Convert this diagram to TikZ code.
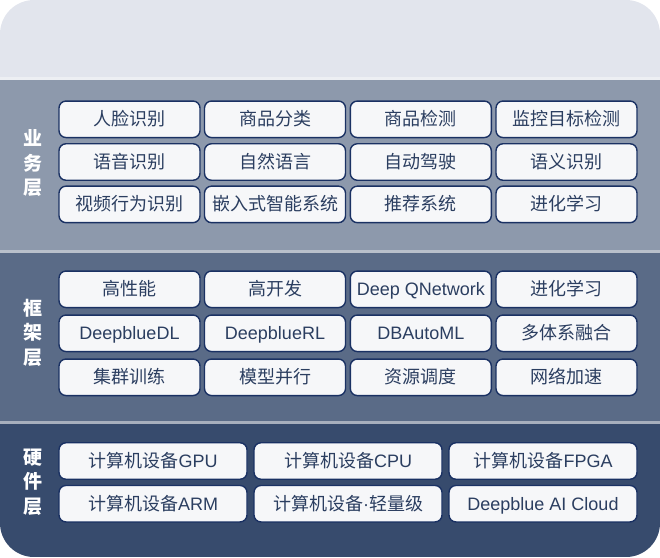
\documentclass[tikz,border=0pt]{standalone}
\usepackage{fontspec}
\setmainfont{Liberation Sans}
\newfontfamily\cjk{Noto Sans CJK SC}
\newfontfamily\lat{Liberation Sans}
\definecolor{topband}{HTML}{E2E5ED}
\definecolor{sepA}{HTML}{EDEFF3}
\definecolor{bizband}{HTML}{8D99AC}
\definecolor{sepB}{HTML}{B9C0CB}
\definecolor{frameband}{HTML}{5A6B87}
\definecolor{sepC}{HTML}{A7AFBD}
\definecolor{hwband}{HTML}{374B6D}
\definecolor{boxline}{HTML}{1A3163}
\definecolor{boxfill}{HTML}{F6F7F9}
\definecolor{boxtext}{HTML}{2B3E60}

\begin{document}
\begin{tikzpicture}[x=1pt,y=-1pt,
  box/.style={draw=boxline,line width=1.4pt,fill=boxfill,rounded corners=7pt,
    minimum width=141pt,minimum height=36.5pt,inner sep=0pt,
    text height=15pt,text depth=2pt,text=boxtext,font=\cjk\fontsize{18}{18}\selectfont},
  widebox/.style={box,minimum width=188pt},
  layer/.style={text=white,align=center,inner sep=0pt,
    font=\cjk\bfseries\fontsize{19}{24.5}\selectfont}]
\useasboundingbox (0,0) rectangle (660,557);

% bands
\begin{scope}
\clip[rounded corners=34pt] (0,0) rectangle (660,557);
\fill[topband] (0,0) rectangle (660,77);
\fill[sepA] (0,77) rectangle (660,80);
\fill[bizband] (0,80) rectangle (660,250);
\fill[sepB] (0,250) rectangle (660,253.3);
\fill[frameband] (0,253.3) rectangle (660,421);
\fill[sepC] (0,421) rectangle (660,424.3);
\fill[hwband] (0,424.3) rectangle (660,557);
\end{scope}

% layer labels
\node[layer] (bizlabel) at (33,163.5) {业\\务\\层};
\node[layer] (framelabel) at (33,332.5) {框\\架\\层};
\node[layer] (hwlabel) at (33,482) {硬\\件\\层};

% business layer
\node[box] (b1) at (129.5,119.3) {人脸识别};
\node[box] (b2) at (275,119.3) {商品分类};
\node[box] (b3) at (420.8,119.3) {商品检测};
\node[box] (b4) at (566.5,119.3) {监控目标检测};
\node[box] (b5) at (129.5,162) {语音识别};
\node[box] (b6) at (275,162) {自然语言};
\node[box] (b7) at (420.8,162) {自动驾驶};
\node[box] (b8) at (566.5,162) {语义识别};
\node[box] (b9) at (129.5,204.4) {视频行为识别};
\node[box] (b10) at (275,204.4) {嵌入式智能系统};
\node[box] (b11) at (420.8,204.4) {推荐系统};
\node[box] (b12) at (566.5,204.4) {进化学习};

% framework layer
\node[box] (f1) at (129.5,289.3) {高性能};
\node[box] (f2) at (275,289.3) {高开发};
\node[box] (f3) at (420.8,289.3) {\lat Deep QNetwork};
\node[box] (f4) at (566.5,289.3) {进化学习};
\node[box] (f5) at (129.5,333.3) {\lat DeepblueDL};
\node[box] (f6) at (275,333.3) {\lat DeepblueRL};
\node[box] (f7) at (420.8,333.3) {\lat DBAutoML};
\node[box] (f8) at (566.5,333.3) {多体系融合};
\node[box] (f9) at (129.5,377.3) {集群训练};
\node[box] (f10) at (275,377.3) {模型并行};
\node[box] (f11) at (420.8,377.3) {资源调度};
\node[box] (f12) at (566.5,377.3) {网络加速};

% hardware layer
\node[widebox] (h1) at (153,461) {计算机设备{\lat GPU}};
\node[widebox] (h2) at (348,461) {计算机设备{\lat CPU}};
\node[widebox] (h3) at (543,461) {计算机设备{\lat FPGA}};
\node[widebox] (h4) at (153,503.7) {计算机设备{\lat ARM}};
\node[widebox] (h5) at (348,503.7) {计算机设备{\lat\textperiodcentered}轻量级};
\node[widebox] (h6) at (543,503.7) {\lat Deepblue AI Cloud};
\end{tikzpicture}
\end{document}
